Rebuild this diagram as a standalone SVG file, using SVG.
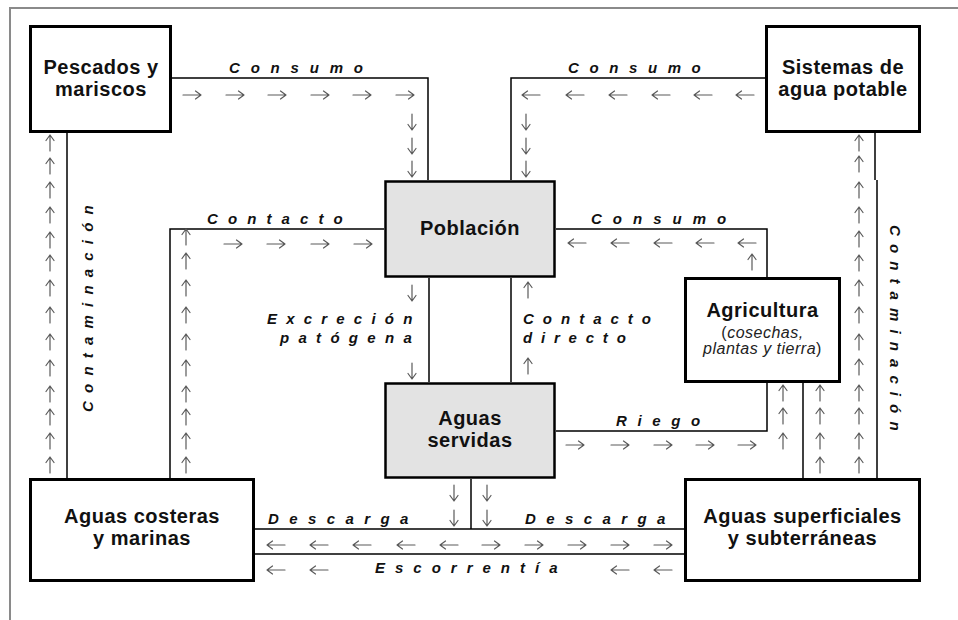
<svg xmlns="http://www.w3.org/2000/svg" xmlns:xlink="http://www.w3.org/1999/xlink" width="958" height="620" viewBox="0 0 958 620">
<style>
.box{fill:#fff;stroke:#000;stroke-width:3}
.gbox{fill:#e3e3e3;stroke:#000;stroke-width:2.5}
.conn{fill:none;stroke:#000;stroke-width:1.5}
.fa{fill:none;stroke:#5a5a5a;stroke-width:1.2;stroke-linecap:round;stroke-linejoin:round}
.nt{font-family:"Liberation Sans",Arial,sans-serif;font-weight:bold;font-size:20px;letter-spacing:0.5px;text-anchor:middle;fill:#111}
.st{font-family:"Liberation Sans",Arial,sans-serif;font-size:16px;letter-spacing:0.5px;text-anchor:middle;fill:#222}
.el{font-family:"Liberation Sans",Arial,sans-serif;font-weight:bold;font-style:italic;font-size:15px;fill:#111}
</style>
<defs>
<path id="ar" class="fa" d="M-9,0 H8.5 M3.5,-4 L9,0 L3.5,4"/>
<path id="al" class="fa" d="M9,0 H-8.5 M-3.5,-4 L-9,0 L-3.5,4"/>
<path id="au" class="fa" d="M0,8 V-7.5 M-4,-2.5 L0,-8 L4,-2.5"/>
<path id="ad" class="fa" d="M0,-8 V7.5 M-4,2.5 L0,8 L4,2.5"/>
</defs>
<rect width="958" height="620" fill="#fff"/>
<g id="frame" fill="none" stroke="#8a8a8a" stroke-width="2">
<path d="M10,620 V8 H958"/>
</g>
<g id="connectors">
<path class="conn" d="M172,78 H428 V180"/>
<path class="conn" d="M765,78 H511 V180"/>
<path class="conn" d="M67,133 V478"/>
<path class="conn" d="M875,133 V180 M877,180 V478"/>
<path class="conn" d="M384,229 H170 V478"/>
<path class="conn" d="M429,278 V382"/>
<path class="conn" d="M511,278 V382"/>
<path class="conn" d="M556,229 H767 V277"/>
<path class="conn" d="M556,431 H767 V383"/>
<path class="conn" d="M803,383 V478"/>
<path class="conn" d="M471,479 V529"/>
<path class="conn" d="M255,529 H684"/>
<path class="conn" d="M255,554 H684"/>
</g>
<g id="flow-arrows">
<use xlink:href="#ar" x="192" y="95"/><use xlink:href="#ar" x="235" y="95"/><use xlink:href="#ar" x="277" y="95"/><use xlink:href="#ar" x="320" y="95"/><use xlink:href="#ar" x="362" y="95"/><use xlink:href="#ar" x="405" y="95"/>
<use xlink:href="#ad" x="412" y="122"/><use xlink:href="#ad" x="412" y="146"/><use xlink:href="#ad" x="412" y="169"/>
<use xlink:href="#al" x="531" y="95"/><use xlink:href="#al" x="575" y="95"/><use xlink:href="#al" x="618" y="95"/><use xlink:href="#al" x="661" y="95"/><use xlink:href="#al" x="703" y="95"/><use xlink:href="#al" x="745" y="95"/>
<use xlink:href="#ad" x="526" y="122"/><use xlink:href="#ad" x="526" y="146"/><use xlink:href="#ad" x="526" y="169"/>
<use xlink:href="#au" x="50" y="143"/><use xlink:href="#au" x="50" y="166"/><use xlink:href="#au" x="50" y="190"/><use xlink:href="#au" x="50" y="215"/><use xlink:href="#au" x="50" y="240"/><use xlink:href="#au" x="50" y="263"/><use xlink:href="#au" x="50" y="288"/><use xlink:href="#au" x="50" y="315"/><use xlink:href="#au" x="50" y="342"/><use xlink:href="#au" x="50" y="368"/><use xlink:href="#au" x="50" y="394"/><use xlink:href="#au" x="50" y="417"/><use xlink:href="#au" x="50" y="441"/><use xlink:href="#au" x="50" y="465"/>
<use xlink:href="#au" x="859" y="143"/><use xlink:href="#au" x="859" y="164"/><use xlink:href="#au" x="859" y="190"/><use xlink:href="#au" x="859" y="215"/><use xlink:href="#au" x="859" y="239"/><use xlink:href="#au" x="859" y="263"/><use xlink:href="#au" x="859" y="288"/><use xlink:href="#au" x="859" y="315"/><use xlink:href="#au" x="859" y="342"/><use xlink:href="#au" x="859" y="367"/><use xlink:href="#au" x="859" y="393"/><use xlink:href="#au" x="859" y="416"/><use xlink:href="#au" x="859" y="441"/><use xlink:href="#au" x="859" y="465"/>
<use xlink:href="#au" x="186" y="237"/><use xlink:href="#au" x="186" y="261"/><use xlink:href="#au" x="186" y="288"/><use xlink:href="#au" x="186" y="315"/><use xlink:href="#au" x="186" y="342"/><use xlink:href="#au" x="186" y="368"/><use xlink:href="#au" x="186" y="394"/><use xlink:href="#au" x="186" y="417"/><use xlink:href="#au" x="186" y="441"/><use xlink:href="#au" x="186" y="465"/>
<use xlink:href="#ar" x="233" y="244"/><use xlink:href="#ar" x="276" y="244"/><use xlink:href="#ar" x="320" y="244"/><use xlink:href="#ar" x="363" y="244"/>
<use xlink:href="#ad" x="412" y="293"/><use xlink:href="#ad" x="412" y="371"/>
<use xlink:href="#au" x="528" y="290"/><use xlink:href="#au" x="528" y="366"/>
<use xlink:href="#al" x="577" y="243"/><use xlink:href="#al" x="620" y="243"/><use xlink:href="#al" x="663" y="243"/><use xlink:href="#al" x="705" y="243"/><use xlink:href="#al" x="747" y="243"/>
<use xlink:href="#au" x="752" y="262"/>
<use xlink:href="#ar" x="575" y="445"/><use xlink:href="#ar" x="620" y="445"/><use xlink:href="#ar" x="663" y="445"/><use xlink:href="#ar" x="705" y="445"/><use xlink:href="#ar" x="747" y="445"/>
<use xlink:href="#au" x="783" y="393"/><use xlink:href="#au" x="783" y="416"/><use xlink:href="#au" x="783" y="441"/>
<use xlink:href="#au" x="820" y="393"/><use xlink:href="#au" x="820" y="416"/><use xlink:href="#au" x="820" y="441"/><use xlink:href="#au" x="820" y="465"/>
<use xlink:href="#ad" x="454" y="493"/><use xlink:href="#ad" x="454" y="518"/>
<use xlink:href="#ad" x="487" y="493"/><use xlink:href="#ad" x="487" y="518"/>
<use xlink:href="#al" x="276" y="545"/><use xlink:href="#al" x="319" y="545"/><use xlink:href="#al" x="362" y="545"/><use xlink:href="#al" x="406" y="545"/><use xlink:href="#al" x="449" y="545"/>
<use xlink:href="#ar" x="491" y="545"/><use xlink:href="#ar" x="534" y="545"/><use xlink:href="#ar" x="577" y="545"/><use xlink:href="#ar" x="620" y="545"/><use xlink:href="#ar" x="663" y="545"/>
<use xlink:href="#al" x="276" y="570"/><use xlink:href="#al" x="319" y="570"/>
<use xlink:href="#al" x="620" y="570"/><use xlink:href="#al" x="663" y="570"/>
</g>
<g id="edge-labels">
<text class="el" x="229" y="73" letter-spacing="10.8">Consumo</text>
<text class="el" x="568" y="73" letter-spacing="10.6">Consumo</text>
<text class="el" x="207" y="224" letter-spacing="10.1">Contacto</text>
<text class="el" x="591" y="224" letter-spacing="11">Consumo</text>
<text class="el" x="267" y="324" letter-spacing="9.2">Excreción</text>
<text class="el" x="280" y="343" letter-spacing="9.3">patógena</text>
<text class="el" x="523" y="324" letter-spacing="9">Contacto</text>
<text class="el" x="523" y="343" letter-spacing="8.8">directo</text>
<text class="el" x="616" y="426" letter-spacing="10.6">Riego</text>
<text class="el" x="268" y="524" letter-spacing="10.4">Descarga</text>
<text class="el" x="525" y="524" letter-spacing="10.4">Descarga</text>
<text class="el" x="375" y="573" letter-spacing="10">Escorrentía</text>
<text class="el" transform="translate(93,412) rotate(-90)" letter-spacing="8.2">Contaminación</text>
<text class="el" transform="translate(890,225) rotate(90)" letter-spacing="8.1">Contaminación</text>
</g>
<g id="node-pescados">
<rect class="box" x="30.5" y="26.5" width="140" height="105"/>
<text class="nt" x="101" y="74">Pescados y</text>
<text class="nt" x="101" y="96">mariscos</text>
</g>
<g id="node-sistemas">
<rect class="box" x="766.5" y="26.5" width="153" height="105"/>
<text class="nt" x="843" y="74">Sistemas de</text>
<text class="nt" x="843" y="96">agua potable</text>
</g>
<g id="node-poblacion">
<rect class="gbox" x="385.5" y="181.5" width="169" height="95"/>
<text class="nt" x="470" y="235">Población</text>
</g>
<g id="node-aguas-servidas">
<rect class="gbox" x="385.5" y="383.5" width="169" height="94"/>
<text class="nt" x="470" y="425">Aguas</text>
<text class="nt" x="470" y="447">servidas</text>
</g>
<g id="node-agricultura">
<rect class="box" x="685.5" y="278.5" width="154" height="103"/>
<text class="nt" x="762.5" y="317">Agricultura</text>
<text class="st" x="762.5" y="338">(<tspan font-style="italic">cosechas,</tspan></text>
<text class="st" x="762.5" y="354"><tspan font-style="italic">plantas y tierra</tspan>)</text>
</g>
<g id="node-aguas-costeras">
<rect class="box" x="30.5" y="479.5" width="223" height="101"/>
<text class="nt" x="142" y="523">Aguas costeras</text>
<text class="nt" x="142" y="545">y marinas</text>
</g>
<g id="node-aguas-superficiales">
<rect class="box" x="685.5" y="479.5" width="234" height="101"/>
<text class="nt" x="802.5" y="523">Aguas superficiales</text>
<text class="nt" x="802.5" y="545">y subterráneas</text>
</g>
</svg>
